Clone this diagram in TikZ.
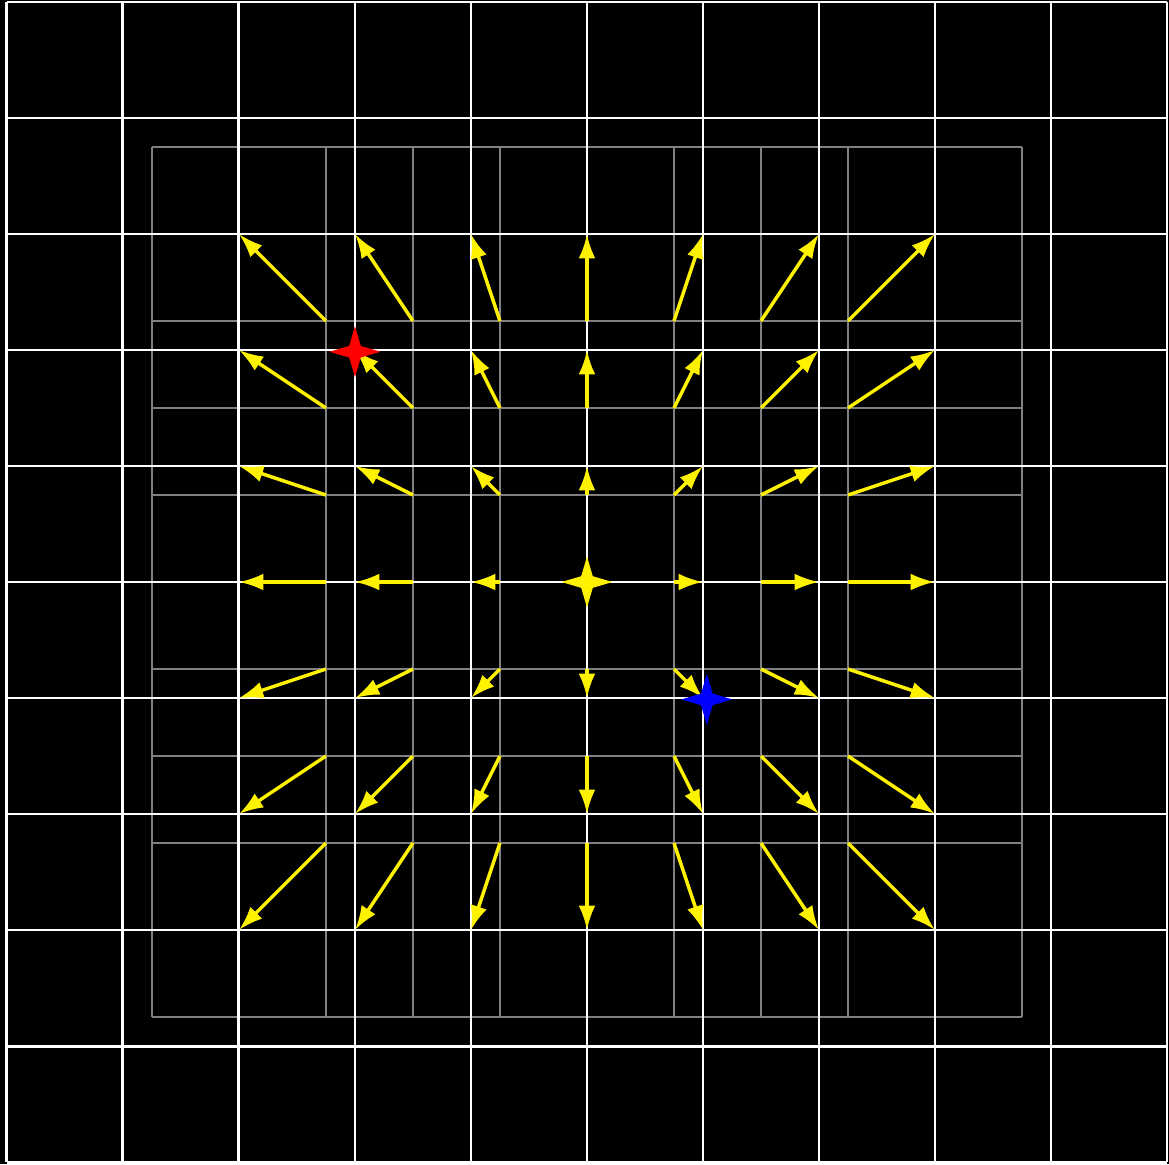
\documentclass[tikz,border=0pt]{standalone}
\usetikzlibrary{arrows.meta}
\begin{document}
\begin{tikzpicture}[x=1cm,y=1cm,
  graygrid/.style={draw={rgb,255:red,128;green,128;blue,128}, line width=0.58pt},
  whitegrid/.style={draw=white, line width=0.72pt},
  vec/.style={draw=yellow, line width=0.85pt, -{Latex[length=0.21cm,width=0.145cm]}},
  star/.style={fill=#1}]
\fill[black] (-5.060,-5.017) rectangle (5.017,5.017);
\useasboundingbox (-5.060,-5.017) rectangle (5.017,5.017);
% scaled (gray) grid
\draw[graygrid] (-3.75,-3.75) grid[step=0.75] (3.75,3.75);
% white grid
\draw[whitegrid] (-5,-5) grid[step=1] (5,5);
% vectors
\foreach \i in {-3,...,3}{
  \foreach \j in {-3,...,3}{
    \coordinate (g\i\j) at (0.75*\i,0.75*\j);
    \coordinate (w\i\j) at (\i,\j);
    \pgfmathtruncatemacro{\z}{abs(\i)+abs(\j)}
    \ifnum\z>0
      \draw[vec] (g\i\j) -- (w\i\j);
    \fi
  }
}
% stars
\coordinate (cs) at (0,0);
\coordinate (rs) at (-2,1.985);
\coordinate (bs) at (1.033,-1.012);
\foreach \p/\c in {cs/yellow,rs/red,bs/blue}{
  \fill[star=\c] (\p) ++(0,0.22) -- ++(0.05,-0.17) -- ++(0.17,-0.05) -- ++(-0.17,-0.05)
    -- ++(-0.05,-0.17) -- ++(-0.05,0.17) -- ++(-0.17,0.05) -- ++(0.17,0.05) -- cycle;
}
\end{tikzpicture}
\end{document}
